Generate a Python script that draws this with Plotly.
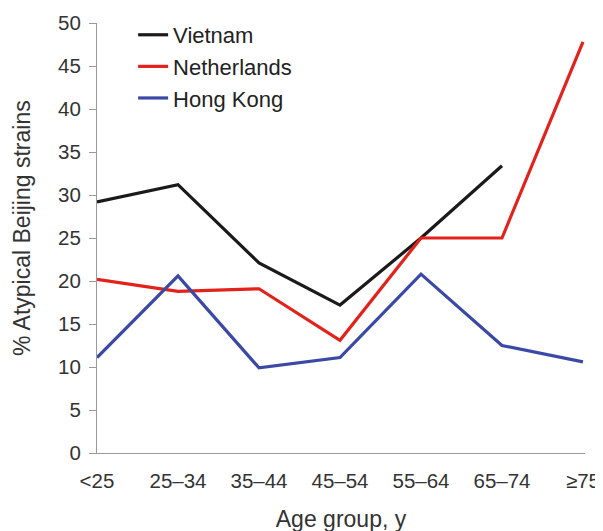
import plotly.graph_objects as go

age_groups = ["<25", "25–34", "35–44", "45–54", "55–64", "65–74", "≥75"]
vietnam = [29.2, 31.2, 22.1, 17.2, 25.0, 33.4, None]
netherlands = [20.2, 18.8, 19.1, 13.1, 25.0, 25.0, 47.8]
hong_kong = [11.1, 20.6, 9.9, 11.1, 20.8, 12.5, 10.6]
y_ticks = [0, 5, 10, 15, 20, 25, 30, 35, 40, 45, 50]

series = [
    ("Vietnam", vietnam, "#1a1a1a"),
    ("Netherlands", netherlands, "#e3221c"),
    ("Hong Kong", hong_kong, "#3a48a6"),
]

fig = go.Figure()
for i, (name, vals, color) in enumerate(series):
    fig.add_trace(go.Scatter(
        x=age_groups, y=vals, name=name, mode="lines",
        line=dict(color=color, width=3.2), cliponaxis=False,
        legendgroup=f"g{i}",
    ))

font_family = "Liberation Sans, Arial, sans-serif"
fig.update_layout(
    width=603, height=531,
    margin=dict(l=89, r=26, t=15, b=86, autoexpand=False),
    paper_bgcolor="white", plot_bgcolor="white",
    font=dict(family=font_family, color="#333333", size=20),
    showlegend=True,
    legend=dict(
        x=0.074, y=1.021, xanchor="left", yanchor="top",
        font=dict(size=22, color="#222222"),
        bgcolor="rgba(0,0,0,0)", tracegroupgap=0,
    ),
    xaxis=dict(
        type="category", range=[0, 6.025], automargin=False,
        showline=True, linecolor="#9a9a9a", linewidth=1.2,
        ticks="", showgrid=False, zeroline=False, ticklabelstandoff=9,
        tickfont=dict(size=20.5, color="#333333"),
        title=dict(text="Age group, y", font=dict(size=23, color="#333333"), standoff=20),
    ),
    yaxis=dict(
        range=[0, 50], tickvals=y_ticks, automargin=False,
        showline=True, linecolor="#9a9a9a", linewidth=1.2,
        ticks="outside", ticklen=7, tickcolor="#9a9a9a", tickwidth=1.2,
        showgrid=False, zeroline=False, ticklabelstandoff=4,
        tickfont=dict(size=20.5, color="#333333"),
    ),
    annotations=[dict(
        text="% Atypical Beijing strains", textangle=-90,
        xref="paper", yref="paper", x=-75 / 488, y=0.5 + 10 / 430,
        xanchor="center", yanchor="middle", showarrow=False,
        font=dict(size=23, color="#333333"),
    )],
)

fig.write_html("out.html")
